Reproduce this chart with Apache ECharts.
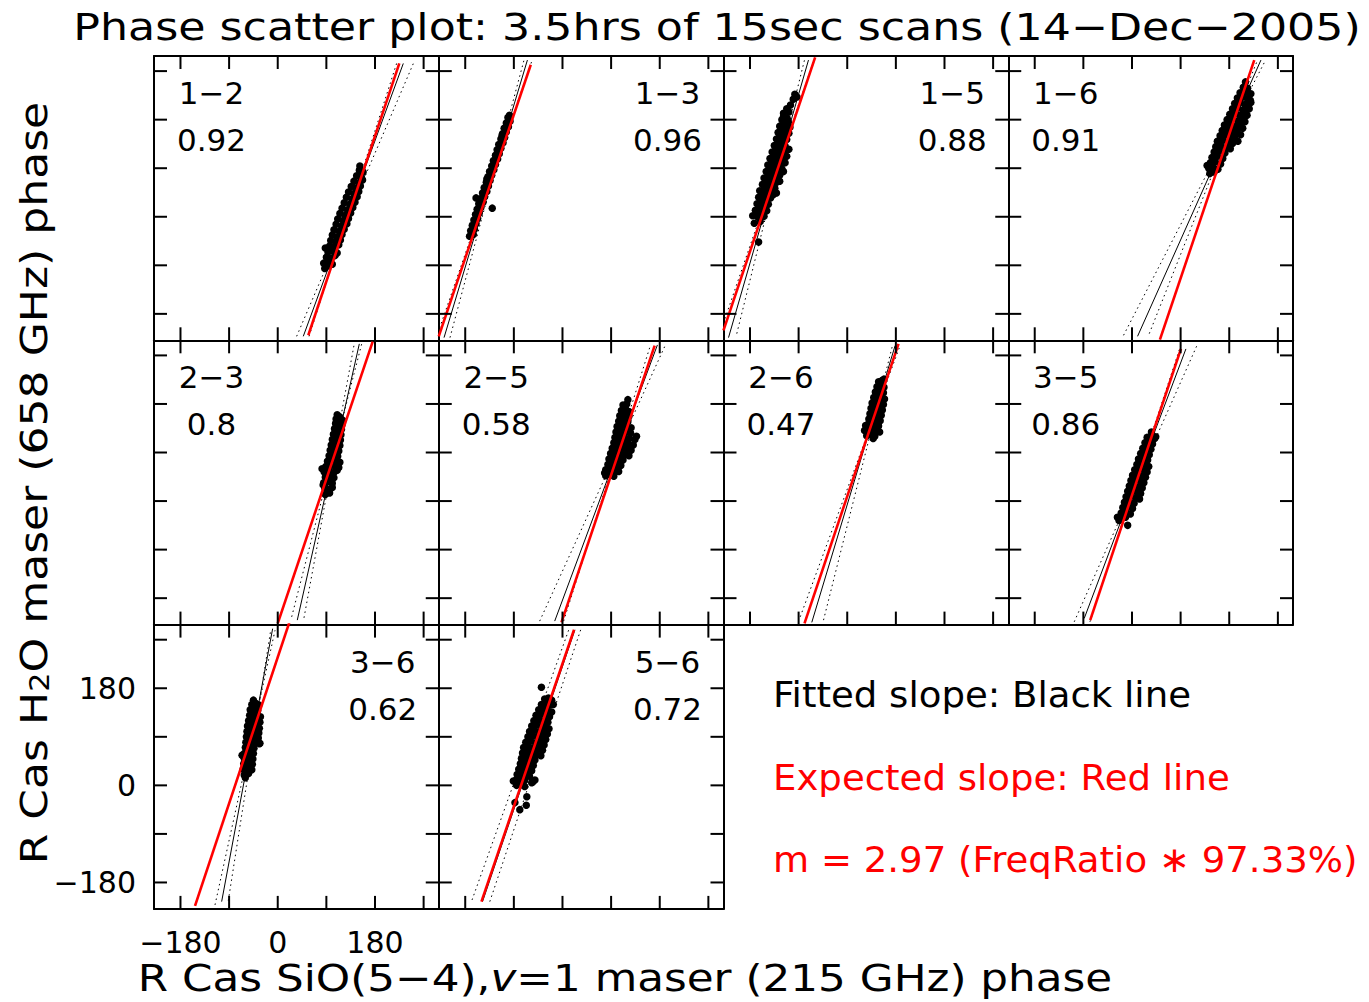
<!DOCTYPE html>
<html>
<head>
<meta charset="utf-8">
<script src="https://cdn.jsdelivr.net/npm/echarts@6/dist/echarts.min.js"></script>
<style>
html,body{margin:0;padding:0;background:#fff;}
#chart{width:1369px;height:1002px;}
</style>
</head>
<body>
<div id="chart"></div>
<script>
// ---------------- DATA ----------------
const axisMin = -229, axisMax = 298;
const tickValues = [-180, -90, 0, 90, 180, 270];
const tickLabelValues = [-180, 0, 180];

const panelNames = ['1−2','1−3','1−5','1−6','2−3','2−5','2−6','3−5','3−6','5−6'];
const correlations = ['0.92','0.96','0.88','0.91','0.8','0.58','0.47','0.86','0.62','0.72'];
const labelCorner = ['left','right','right','left','left','left','left','left','right','right'];

const titleText = 'Phase scatter plot: 3.5hrs of 15sec scans (14−Dec−2005)';
const xTitleRich = 'R Cas SiO(5−4),{it|v}=1 maser (215 GHz) phase';
const yTitleRich = 'R Cas H{sub|2}O maser (658 GHz) phase';
const legendLines = ['Fitted slope: Black line', 'Expected slope: Red line', 'm = 2.97 (FreqRatio ∗ 97.33%)'];

// scatter clouds (SiO phase, H2O phase)
const pts12 = [[87,-96],[93,-91],[85,-86],[95,-84],[101,-88],[90,-75],[99,-77],[106,-72],[93,-66],[101,-63],[110,-67],[88,-58],[96,-54],[104,-57],[113,-52],[98,-44],[107,-47],[116,-43],[101,-34],[110,-37],[119,-33],[104,-24],[114,-27],[123,-23],[108,-14],[118,-17],[128,-13],[111,-4],[121,-7],[131,-3],[115,6],[125,3],[135,7],[119,16],[129,13],[139,17],[123,26],[133,23],[143,27],[127,36],[137,33],[147,37],[131,46],[141,43],[150,47],[136,56],[145,53],[153,57],[141,66],[150,63],[157,68],[146,76],[155,73],[151,86],[158,83],[152,94]];
const pts13 = [[-172,-36],[-165,-33],[-170,-26],[-163,-23],[-167,-16],[-160,-13],[-164,-6],[-157,-3],[-161,4],[-154,7],[-158,14],[-151,17],[-155,24],[-147,27],[-151,34],[-144,37],[-148,44],[-140,47],[-145,54],[-137,57],[-141,64],[-134,67],[-138,74],[-131,77],[-135,84],[-127,87],[-131,94],[-124,97],[-128,104],[-120,107],[-124,114],[-117,117],[-121,124],[-114,127],[-118,134],[-110,137],[-114,144],[-107,147],[-111,154],[-104,157],[-108,164],[-100,167],[-104,174],[-97,177],[-101,184],[-98,188],[-160,35],[-140,70],[-122,110],[-112,150],[-130,16]];
const pts15 = [[-172,-12],[-161,-9],[-175,2],[-165,-1],[-154,1],[-170,12],[-160,14],[-149,11],[-167,24],[-157,26],[-146,23],[-164,36],[-153,38],[-142,35],[-162,48],[-150,50],[-139,47],[-131,44],[-157,60],[-146,62],[-135,59],[-154,72],[-143,74],[-132,71],[-125,66],[-150,84],[-139,86],[-128,83],[-118,84],[-147,96],[-136,98],[-125,95],[-115,100],[-143,108],[-133,110],[-122,107],[-112,112],[-139,120],[-129,122],[-118,119],[-108,125],[-135,132],[-125,134],[-115,131],[-131,144],[-122,146],[-112,143],[-128,156],[-118,158],[-108,155],[-125,168],[-114,170],[-106,166],[-121,180],[-111,182],[-118,192],[-108,194],[-112,200],[-105,207],[-97,227],[-100,218],[-93,222],[-164,-47],[-167,2],[-118,186],
  [-166,6],[-156,7],[-163,18],[-153,19],[-160,30],[-149,31],[-157,42],[-146,43],[-137,41],[-153,54],[-143,55],[-134,53],[-150,66],[-139,67],[-129,65],[-146,78],[-136,79],[-125,77],[-143,90],[-132,91],[-121,89],[-140,102],[-129,103],[-119,101],[-136,114],[-126,115],[-116,113],[-132,126],[-122,127],[-112,125],[-128,138],[-118,139],[-125,150],[-115,151],[-121,162],[-111,163],[-118,174],[-109,175]];
const pts16 = [[144,80],[152,83],[142,90],[150,92],[159,88],[145,100],[154,102],[164,98],[148,110],[158,112],[168,108],[152,120],[162,122],[172,118],[155,130],[165,132],[175,128],[182,126],[158,140],[168,142],[178,138],[186,136],[196,140],[163,150],[173,152],[183,148],[190,146],[201,152],[167,160],[177,162],[187,158],[194,156],[205,164],[171,170],[181,172],[191,168],[198,166],[176,180],[186,182],[196,178],[203,176],[209,176],[181,190],[191,192],[200,188],[207,186],[213,188],[186,200],[195,202],[205,198],[211,196],[217,200],[190,210],[200,212],[209,208],[215,206],[220,212],[195,220],[205,222],[214,218],[219,216],[200,230],[209,232],[217,228],[206,240],[214,238],[210,250],[220,228],[139,95],[146,86]];
const pts23 = [[88,12],[96,15],[87,24],[95,22],[101,25],[85,34],[93,36],[101,33],[88,44],[96,46],[104,43],[86,54],[95,56],[104,53],[110,57],[89,64],[98,66],[107,63],[113,62],[92,74],[100,76],[109,73],[115,72],[95,84],[103,86],[111,83],[97,94],[105,96],[113,93],[99,104],[107,106],[115,103],[101,114],[109,116],[116,113],[103,124],[111,126],[117,123],[105,134],[113,136],[118,133],[107,144],[114,146],[119,142],[108,152],[115,156],[110,160],[84,30],[82,60],[120,150]];
const pts25 = [[80,47],[88,50],[95,46],[80,58],[89,60],[97,57],[104,55],[84,68],[93,70],[101,67],[108,66],[86,78],[95,80],[104,77],[112,76],[89,88],[98,90],[107,87],[116,86],[123,84],[92,98],[101,100],[110,97],[119,96],[127,94],[95,108],[104,110],[113,107],[122,106],[131,104],[97,118],[106,120],[115,117],[124,116],[134,114],[99,128],[108,130],[117,127],[126,126],[101,138],[110,140],[119,137],[127,136],[104,148],[113,150],[121,147],[106,158],[115,160],[123,157],[109,168],[117,170],[123,166],[112,178],[119,180],[121,188],[78,52],[137,120]];
const pts26 = [[36,121],[44,124],[51,120],[37,132],[45,134],[53,131],[38,142],[46,144],[54,141],[58,139],[40,152],[48,154],[56,151],[61,149],[42,162],[50,164],[58,161],[63,159],[44,172],[52,174],[60,171],[65,169],[46,182],[54,184],[62,181],[67,179],[49,192],[57,194],[64,191],[69,189],[52,202],[60,204],[67,201],[55,212],[62,214],[68,211],[58,221],[65,224],[32,131],[48,116],[60,128],[34,140],[68,226]];
const pts35 = [[-20,-33],[-12,-30],[-20,-22],[-11,-20],[-3,-24],[-17,-12],[-8,-10],[1,-14],[-14,-2],[-5,0],[4,-4],[-11,8],[-2,10],[7,6],[14,4],[-8,18],[1,20],[10,16],[16,14],[-5,28],[4,30],[13,26],[19,24],[-2,38],[7,40],[16,36],[22,34],[1,48],[10,50],[19,46],[25,44],[5,58],[14,60],[23,56],[28,54],[9,68],[18,70],[26,66],[31,64],[12,78],[21,80],[29,76],[16,88],[25,90],[32,86],[20,98],[28,100],[35,96],[24,108],[32,110],[38,106],[28,118],[36,120],[42,116],[-27,-30],[-8,-45],[44,119],[36,128],[-24,-36]];
const pts36 = [[-62,19],[-54,22],[-64,30],[-56,32],[-48,29],[-63,40],[-55,42],[-47,39],[-62,50],[-54,52],[-46,49],[-61,60],[-53,62],[-45,59],[-66,56],[-60,70],[-52,72],[-44,69],[-59,80],[-51,82],[-43,79],[-34,77],[-58,90],[-50,92],[-42,89],[-36,88],[-57,100],[-49,102],[-41,99],[-35,97],[-56,110],[-48,112],[-40,109],[-34,106],[-54,120],[-46,122],[-38,119],[-33,117],[-52,130],[-45,132],[-37,129],[-32,127],[-51,140],[-44,142],[-37,139],[-48,150],[-41,152],[-35,149],[-45,158],[-65,56],[-33,78],[-60,14]];
const pts56 = [[-85,0],[-77,3],[-70,-2],[-86,10],[-78,12],[-70,9],[-84,20],[-76,22],[-68,19],[-61,17],[-81,30],[-73,32],[-65,29],[-57,27],[-78,40],[-70,42],[-62,39],[-54,37],[-76,50],[-67,52],[-59,49],[-51,47],[-74,60],[-65,62],[-56,59],[-48,57],[-40,55],[-72,70],[-63,72],[-54,69],[-45,67],[-37,65],[-68,80],[-59,82],[-50,79],[-41,77],[-34,75],[-64,90],[-55,92],[-46,89],[-38,87],[-31,85],[-61,100],[-52,102],[-43,99],[-35,97],[-28,95],[-57,110],[-48,112],[-39,109],[-31,107],[-25,105],[-53,120],[-44,122],[-35,119],[-27,117],[-49,130],[-40,132],[-31,129],[-24,127],[-44,140],[-36,142],[-28,139],[-20,136],[-39,150],[-31,152],[-23,149],[-33,160],[-26,162],[-20,158],[-39,182],[-88,-32],[-66,-21],[-67,-37],[-79,-45],[-57,5],[-91,8],[-17,150],[-51,10],[-55,6]];
const cloudPoints = [pts12, pts13, pts15, pts16, pts23, pts25, pts26, pts35, pts36, pts56];

// line end points (data units)
const expectedLines = [
  [[56.6,-219.7],[225,284.2]], [[-229,-221.6],[-58.7,281.8]], [[-229,-210.5],[-59.4,295.3]], [[51.7,-227.7],[226.3,290.5]],
  [[0,-226.8],[175.7,295.7]], [[-1.9,-224.9],[170.6,288.1]], [[-79.1,-226.8],[94.9,291.4]], [[-77.3,-220.7],[90.6,282]],
  [[-153.1,-223.5],[22.7,305.8]], [[-150,-215.5],[21.4,288.4]]
];
const fittedLines = [
  [[47.3,-221.6],[232.4,284.2]], [[-219.2,-224],[-64.9,290.5]], [[-219.7,-224],[-71.7,290.5]], [[10.3,-221.6],[238.7,290.5]],
  [[36.2,-220.7],[151,291.4]], [[-14.4,-222.5],[175.7,289.4]], [[-65.6,-224.9],[88.6,288.1]], [[-88.4,-217.5],[99.8,282]],
  [[-103.8,-215.5],[-9.4,290.5]], [[-148,-215.5],[23,288.4]]
];
const fitLowLines = [
  [[35,-221.6],[251,284.2]], [[-233.5,-224],[-56.1,290.5]], [[-238.4,-224],[-61.6,290.5]], [[-15.6,-219.7],[247.3,290.5]],
  [[25.8,-214.6],[155.4,291.4]], [[-42.2,-222.5],[190.5,289.4]], [[-87,-214.6],[97.8,288.1]], [[-106.9,-223.8],[120.1,288.1]],
  [[-116.1,-221.6],[-5,287.5]], [[-167.4,-212.4],[13.4,293.4]]
];
const fitHighLines = [
  [[58,-221.6],[220,284.2]], [[-208.2,-224],[-71.2,290.5]], [[-204.4,-216.6],[-79.1,290.5]], [[32,-216.6],[232.3,290.5]],
  [[48.6,-216.4],[141,288]], [[2.1,-222.5],[163,289.4]], [[-43.9,-220.7],[83.7,288.1]], [[-77.8,-223.8],[90.1,288.1]],
  [[-91.5,-213.7],[-13,287.5]], [[-134.5,-215.5],[33.7,288.4]]
];

// ---------------- LAYOUT ----------------
const FONT = 'DejaVu Sans';
const panelRowCol = [[0,0],[0,1],[0,2],[0,3],[1,0],[1,1],[1,2],[1,3],[2,0],[2,1]];
const PLEFT = 154, PTOP = 56, PW = 284.75, PH = 284.3;
const TICK_LEN = 13;
const labelPanel = 8;

const grids = [], xAxes = [], yAxes = [], series = [], elements = [];
const minus = v => v < 0 ? '−' + Math.abs(v) : String(v);

// inward tick marks on all four sides, placed through the axis scales
function renderTicks(params, api) {
  const v = api.value(0);
  const b = api.coord([v, axisMin]), t = api.coord([v, axisMax]);
  const l = api.coord([axisMin, v]), r = api.coord([axisMax, v]);
  const st = {stroke: '#000', lineWidth: 2};
  return {type: 'group', children: [
    {type: 'line', shape: {x1: b[0], y1: b[1], x2: b[0], y2: b[1] - TICK_LEN}, style: st},
    {type: 'line', shape: {x1: t[0], y1: t[1], x2: t[0], y2: t[1] + TICK_LEN}, style: st},
    {type: 'line', shape: {x1: l[0], y1: l[1], x2: l[0] + TICK_LEN, y2: l[1]}, style: st},
    {type: 'line', shape: {x1: r[0], y1: r[1], x2: r[0] - TICK_LEN, y2: r[1]}, style: st}
  ]};
}

panelRowCol.forEach(([r, c], i) => {
  const left = PLEFT + c * PW, top = PTOP + r * PH;
  grids.push({left: left, top: top, width: PW, height: PH, containLabel: false});
  const lineStyle = {color: '#000', width: 2};
  ['bottom', 'top'].forEach(pos => {
    const showLab = (i === labelPanel && pos === 'bottom');
    xAxes.push({
      gridIndex: i, type: 'value', min: axisMin, max: axisMax, position: pos,
      axisLine: {show: true, onZero: false, lineStyle: lineStyle},
      axisTick: {show: false}, splitLine: {show: false},
      axisLabel: showLab ? {show: true, customValues: tickLabelValues, formatter: minus, fontFamily: FONT, fontSize: 30, color: '#000', margin: 19} : {show: false}
    });
  });
  ['left', 'right'].forEach(pos => {
    const showLab = (i === labelPanel && pos === 'left');
    yAxes.push({
      gridIndex: i, type: 'value', min: axisMin, max: axisMax, position: pos,
      axisLine: {show: true, onZero: false, lineStyle: lineStyle},
      axisTick: {show: false}, splitLine: {show: false},
      axisLabel: showLab ? {show: true, customValues: tickLabelValues, formatter: minus, fontFamily: FONT, fontSize: 30, color: '#000', margin: 18} : {show: false}
    });
  });
  const ax = {xAxisIndex: 2 * i, yAxisIndex: 2 * i};
  series.push(Object.assign({type: 'custom', data: tickValues.map(v => [v, v]), renderItem: renderTicks, clip: false, z: 6, silent: true}, ax));
  series.push(Object.assign({type: 'scatter', data: cloudPoints[i], symbol: 'circle', symbolSize: 7.5, itemStyle: {color: '#000', opacity: 1}, z: 2, silent: true}, ax));
  [fitLowLines, fitHighLines].forEach(arr => {
    series.push(Object.assign({type: 'line', data: arr[i], symbol: 'none', clip: true, lineStyle: {color: '#000', width: 1, type: [1.5, 3.5]}, z: 3, silent: true}, ax));
  });
  series.push(Object.assign({type: 'line', data: fittedLines[i], symbol: 'none', clip: true, lineStyle: {color: '#000', width: 1}, z: 4, silent: true}, ax));
  series.push(Object.assign({type: 'line', data: expectedLines[i], symbol: 'none', clip: true, lineStyle: {color: '#ff0000', width: 2.6}, z: 5, silent: true}, ax));

  const cx = labelCorner[i] === 'left' ? left + 57.5 : left + PW - 56;
  elements.push({type: 'text', x: cx, y: top + 37, style: {text: panelNames[i], fontFamily: FONT, fontSize: 31, fill: '#000', align: 'center', verticalAlign: 'middle'}});
  elements.push({type: 'text', x: cx, y: top + 84, style: {text: correlations[i], fontFamily: FONT, fontSize: 31, fill: '#000', align: 'center', verticalAlign: 'middle'}});
});

elements.push({type: 'text', x: 717, y: 27, scaleX: 1.165, style: {text: titleText, fontFamily: FONT, fontSize: 38, fill: '#000', align: 'center', verticalAlign: 'middle'}});
elements.push({type: 'text', x: 625, y: 978, scaleX: 1.15, style: {text: xTitleRich, fontFamily: FONT, fontSize: 38, fill: '#000', align: 'center', verticalAlign: 'middle',
  rich: {it: {fontFamily: FONT, fontSize: 38, fontStyle: 'italic', fill: '#000'}}}});
elements.push({type: 'text', x: 34, y: 483, rotation: Math.PI / 2, scaleX: 1.16, style: {text: yTitleRich, fontFamily: FONT, fontSize: 38, fill: '#000', align: 'center', verticalAlign: 'middle',
  rich: {sub: {fontFamily: FONT, fontSize: 26, fill: '#000', verticalAlign: 'bottom', lineHeight: 20}}}});
const legendColors = ['#000', '#ff0000', '#ff0000'];
const legendY = [695, 778, 860];
legendLines.forEach((t, k) => {
  elements.push({type: 'text', x: 773, y: legendY[k], scaleX: 1.03, style: {text: t, fontFamily: FONT, fontSize: 36, fill: legendColors[k], align: 'left', verticalAlign: 'middle'}});
});

const chart = echarts.init(document.getElementById('chart'), null, {renderer: 'svg'});
chart.setOption({
  animation: false,
  backgroundColor: '#fff',
  grid: grids,
  xAxis: xAxes,
  yAxis: yAxes,
  series: series,
  graphic: {elements: elements}
});
</script>
</body>
</html>
